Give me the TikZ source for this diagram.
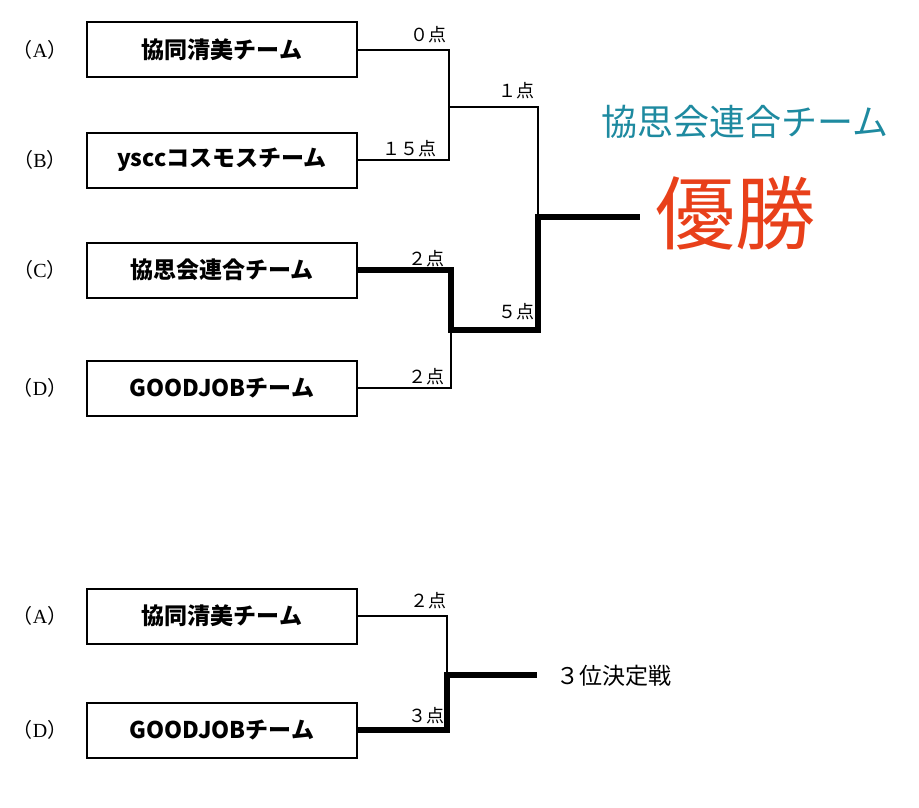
\documentclass[tikz,border=0pt]{standalone}
\usepackage{fontspec}
\setmainfont{Noto Sans CJK JP}
\newfontfamily\latinserif{Liberation Serif}
\definecolor{tealtxt}{RGB}{30,138,160}
\definecolor{redtxt}{RGB}{232,64,26}
\newcommand{\seedtxt}[1]{（{\latinserif #1}）}
\begin{document}
\begin{tikzpicture}[x=1pt,y=-1pt,
  team/.style={draw,line width=2pt,minimum width=270pt,minimum height=55pt,inner sep=0pt,font=\fontsize{23}{23}\selectfont\bfseries},
  seed/.style={font=\fontsize{20}{20}\selectfont},
  score/.style={font=\fontsize{18}{18}\selectfont,anchor=base east,inner sep=0pt},
  thin/.style={line width=2.4pt},
  thick/.style={line width=6.5pt}]
\useasboundingbox (0,0) rectangle (919,808);
% top bracket
\node[team] (A) at (222,50) {協同清美チーム};
\node[team] (B) at (222,160) {ysccコスモスチーム};
\node[team] (C) at (222,270) {協思会連合チーム};
\node[team] (D) at (222,388) {GOODJOBチーム};
\node[seed] (sA) at (40,50) {\seedtxt{A}};
\node[seed] (sB) at (40,160) {\seedtxt{B}};
\node[seed] (sC) at (40,270) {\seedtxt{C}};
\node[seed] (sD) at (40,388) {\seedtxt{D}};
\coordinate (ab) at (449,107);
\coordinate (abR) at (538,107);
\coordinate (cd) at (451,330);
\coordinate (cdR) at (538,330);
\coordinate (fin) at (538,217);
\coordinate (finE) at (640,217);
\draw[thin] (A.east) -- (A.east -| ab) -- (B.east -| ab) -- (B.east);
\draw[thin] (ab) -- (abR) -- (cdR);
\draw[thin] (D.east) -- (D.east -| cd) -- (cd);
\draw[thick,line join=miter] (C.east) -- (C.east -| cd) -- (cd) -- (cdR) -- (fin) -- (finE);
\node[score] (s0) at (447,42) {０点};
\node[score] (s1) at (535,97) {１点};
\node[score] (s15) at (437,155) {１５点};
\node[score] (s2c) at (445,265) {２点};
\node[score] (s5) at (535,318) {５点};
\node[score] (s2d) at (445,383) {２点};
\node[font=\fontsize{36}{36}\selectfont,text=tealtxt] (champ) at (745,122) {協思会連合チーム};
\node[font=\fontsize{80}{80}\selectfont,text=redtxt] (win) at (735,213) {優勝};
% third place
\node[team] (A2) at (222,616) {協同清美チーム};
\node[team] (D2) at (222,730) {GOODJOBチーム};
\node[seed] (sA2) at (40,616) {\seedtxt{A}};
\node[seed] (sD2) at (40,730) {\seedtxt{D}};
\coordinate (tp) at (447,675);
\coordinate (tpE) at (537,675);
\draw[thin] (A2.east) -- (A2.east -| tp) -- (tp);
\draw[thick,line join=miter] (D2.east) -- (D2.east -| tp) -- (tp) -- (tpE);
\node[score] (s2b) at (447,607) {２点};
\node[score] (s3b) at (445,722) {３点};
\node[font=\fontsize{23}{23}\selectfont,anchor=west] (third) at (553,676) {３位決定戦};
\end{tikzpicture}
\end{document}
